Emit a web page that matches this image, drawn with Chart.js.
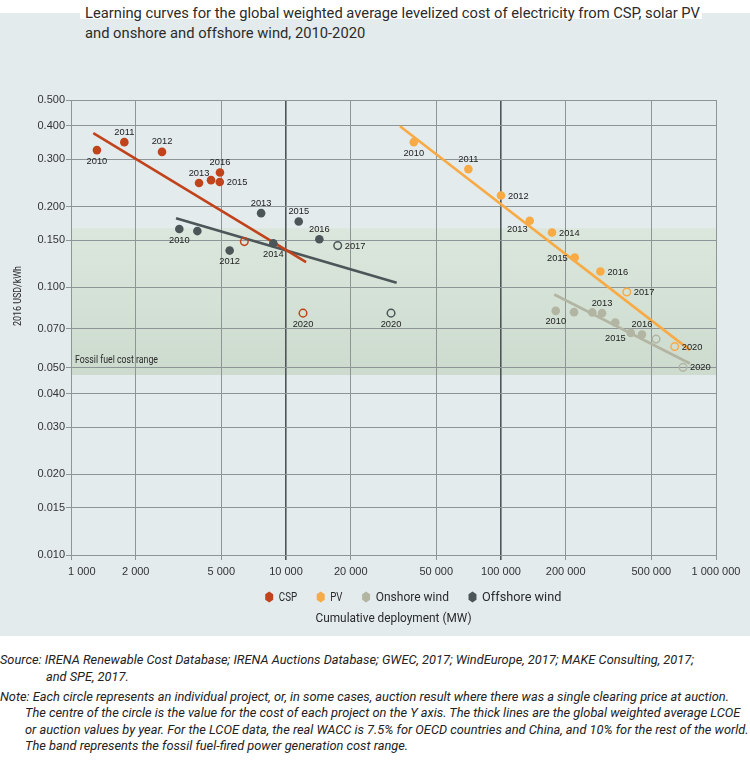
<!DOCTYPE html>
<html><head><meta charset="utf-8">
<script src="https://cdn.jsdelivr.net/npm/chart.js@4.4.1/dist/chart.umd.min.js"></script>
<style>
html,body{margin:0;padding:0;background:#fff;width:750px;height:760px;overflow:hidden;}
#bg{position:absolute;left:0;top:13px;width:750px;height:623px;background:#e3ebed;}
#tbox{position:absolute;left:80px;top:0;width:622px;height:19px;background:#fff;}
#title{position:absolute;left:85px;top:3px;font:15.5px/20px Roboto,sans-serif;color:#2b2b2b;white-space:nowrap;transform-origin:0 0;}
#title span, #notes span{display:inline-block;}
#wrap{position:absolute;left:0;top:0;width:750px;height:640px;}
#notes{position:absolute;left:0;top:652px;font:italic 12.8px/16.5px Roboto,sans-serif;color:#222;white-space:nowrap;transform-origin:0 0;}
#notes p{margin:0 0 3.5px 0;}
.ind1{padding-left:46px;}
.ind2{padding-left:25px;}
</style></head>
<body>
<div id="bg"></div>
<div id="tbox"></div>
<div id="title"><span id="t1">Learning curves for the global weighted average levelized cost of electricity from CSP, solar PV</span><br><span>and onshore and offshore wind, 2010-2020</span></div>
<div id="wrap"><canvas id="c" width="750" height="640"></canvas></div>
<div id="notes">
<p><span>Source: IRENA Renewable Cost Database; IRENA Auctions Database; GWEC, 2017; WindEurope, 2017; MAKE Consulting, 2017;</span><br><span class="ind1">and SPE, 2017.</span></p>
<p><span id="n1">Note: Each circle represents an individual project, or, in some cases, auction result where there was a single clearing price at auction.</span><br><span class="ind2">The centre of the circle is the value for the cost of each project on the Y axis. The thick lines are the global weighted average LCOE</span><br><span class="ind2">or auction values by year. For the LCOE data, the real WACC is 7.5% for OECD countries and China, and 10% for the rest of the world.</span><br><span class="ind2">The band represents the fossil fuel-fired power generation cost range.</span></p>
</div>
<script>
// ---- axis ticks ----
const xTicks = [1000, 2000, 5000, 10000, 20000, 50000, 100000, 200000, 500000, 1000000];
const yTicks = [0.5, 0.4, 0.3, 0.2, 0.15, 0.1, 0.07, 0.05, 0.04, 0.03, 0.02, 0.015, 0.01];
const fossilRange = [0.047, 0.166];

// ---- CSP ----
const cspDeploy = [1320, 1770, 2650, 3940, 4480, 4930, 4920];
const cspLcoe   = [0.325, 0.348, 0.320, 0.245, 0.251, 0.268, 0.247];
const cspYears  = ['2010', '2011', '2012', '2013', '', '2016', '2015'];
const cspAuctionDeploy = [6400, 12000];
const cspAuctionLcoe   = [0.148, 0.080];
const cspAuctionYears  = ['', '2020'];
const cspTrendDeploy = [1270, 12400];
const cspTrendLcoe   = [0.376, 0.124];

// ---- Offshore wind ----
const offDeploy = [3190, 3870, 5470, 7660, 8730, 11460, 14290];
const offLcoe   = [0.165, 0.162, 0.137, 0.189, 0.146, 0.176, 0.151];
const offYears  = ['2010', '', '2012', '2013', '2014', '2015', '2016'];
const offAuctionDeploy = [17400, 30800];
const offAuctionLcoe   = [0.143, 0.080];
const offAuctionYears  = ['2017', '2020'];
const offTrendDeploy = [3080, 32700];
const offTrendLcoe   = [0.181, 0.104];

// ---- Solar PV ----
const pvDeploy = [39300, 70500, 100000, 136000, 172600, 220300, 289900];
const pvLcoe   = [0.348, 0.276, 0.220, 0.177, 0.160, 0.129, 0.1145];
const pvYears  = ['2010', '2011', '2012', '2013', '2014', '2015', '2016'];
const pvAuctionDeploy = [384600, 642700];
const pvAuctionLcoe   = [0.096, 0.060];
const pvAuctionYears  = ['2017', '2020'];
const pvTrendDeploy = [33900, 756600];
const pvTrendLcoe   = [0.399, 0.0582];

// ---- Onshore wind ----
const onDeploy = [179700, 218600, 265900, 295100, 340100, 401300, 452500];
const onLcoe   = [0.0816, 0.0807, 0.0805, 0.0800, 0.0738, 0.0675, 0.0666];
const onYears  = ['2010', '', '', '2013', '', '2015', '2016'];
const onAuctionDeploy = [526300, 702400];
const onAuctionLcoe   = [0.064, 0.0502];
const onAuctionYears  = ['', '2020'];
const onTrendDeploy = [177000, 756600];
const onTrendLcoe   = [0.0939, 0.0519];

const legendNames = ['CSP', 'PV', 'Onshore wind', 'Offshore wind'];

// ---- styles ----
const COL = { csp: '#c1431b', pv: '#f8aa45', on: '#b3b5a3', off: '#4c5659' };
const PLACE = {
  csp: ['b', 'a', 'a', 'a', '', 'a', 'r'], cspA: ['', 'b'],
  off: ['b', '', 'b', 'a', 'b', 'a', 'a'], offA: ['r', 'b'],
  pv: ['b', 'a', 'r', 'bl', 'r', 'l', 'r'], pvA: ['r', 'r'],
  on: ['b', '', '', 'a', '', 'lb', 'a'], onA: ['', 'r']
};
const OFFS = { b: [0, 11, 'center'], a: [0, -10, 'center'], r: [7, 0.5, 'left'], l: [-7, 0.5, 'right'], bl: [-2, 9, 'right'], lb: [-5, 6, 'right'] };
const TXT = 'Roboto,sans-serif';
const NUMF = '"Liberation Sans",sans-serif';

// condense HTML text blocks to the reference widths
function condense(block, line, target) {
  const w = line.getBoundingClientRect().width;
  if (w > target) block.style.transform = 'scaleX(' + (target / w) + ')';
}
condense(document.getElementById('title'), document.getElementById('t1'), 615);
condense(document.getElementById('notes'), document.getElementById('n1'), 737);

function pts(xs, ys) { return xs.map((x, i) => ({ x: x, y: ys[i] })); }
function trend(xs, ys, c) {
  return { data: pts(xs, ys), showLine: true, borderColor: c, borderWidth: 2.6, pointRadius: 0, fill: false, order: 2 };
}
function dots(xs, ys, c, yrs, place) {
  return { data: pts(xs, ys), backgroundColor: c, borderColor: c, pointRadius: 4.3, pointBorderWidth: 0, order: 1, yearLabels: yrs, labelPos: place };
}
function rings(xs, ys, c, yrs, place) {
  return { data: pts(xs, ys), backgroundColor: 'rgba(0,0,0,0)', borderColor: c, pointRadius: 3.8, pointBorderWidth: 1.5, order: 1, yearLabels: yrs, labelPos: place };
}
function fitText(ctx, t, x, y, maxW) {
  const w = ctx.measureText(t).width;
  if (w > maxW) ctx.fillText(t, x, y, maxW); else ctx.fillText(t, x, y);
}

const bandPlugin = {
  id: 'band',
  beforeDraw(chart) {
    const { ctx, chartArea: a, scales: { y } } = chart;
    const top = y.getPixelForValue(fossilRange[1]);
    const bot = y.getPixelForValue(fossilRange[0]);
    const g = ctx.createLinearGradient(0, top, 0, bot);
    g.addColorStop(0, '#dbe7dc');
    g.addColorStop(1, '#cddbcf');
    ctx.save();
    ctx.fillStyle = g;
    ctx.fillRect(a.left, top, a.right - a.left, bot - top);
    ctx.restore();
  },
  beforeDatasetsDraw(chart) {
    const { ctx, chartArea: a, scales: { y } } = chart;
    ctx.save();
    ctx.font = '10px ' + TXT;
    ctx.fillStyle = '#2a2a2a';
    ctx.textAlign = 'left';
    ctx.textBaseline = 'alphabetic';
    fitText(ctx, 'Fossil fuel cost range', a.left + 4, y.getPixelForValue(fossilRange[0]) - 12, 83);
    ctx.restore();
  }
};

const labelPlugin = {
  id: 'yearLabels',
  afterDatasetsDraw(chart) {
    const ctx = chart.ctx;
    ctx.save();
    ctx.font = '9.3px ' + NUMF;
    ctx.fillStyle = '#222';
    ctx.textBaseline = 'middle';
    chart.data.datasets.forEach((ds, i) => {
      if (!ds.yearLabels) return;
      const meta = chart.getDatasetMeta(i);
      meta.data.forEach((el, j) => {
        const t = ds.yearLabels[j];
        const p = ds.labelPos[j];
        if (!t || !p) return;
        const o = OFFS[p];
        ctx.textAlign = o[2];
        ctx.fillText(t, el.x + o[0], el.y + o[1]);
      });
    });
    ctx.restore();
  },
  afterDraw(chart) {
    const { ctx, chartArea: a, scales: { x } } = chart;
    ctx.save();
    // x tick labels
    ctx.font = '11px ' + NUMF;
    ctx.fillStyle = '#333';
    ctx.textBaseline = 'middle';
    xTicks.forEach((v, i) => {
      const px = x.getPixelForValue(v);
      const s = v.toLocaleString('en-US').replace(/,/g, ' ');
      if (i === 0) { ctx.textAlign = 'left'; ctx.fillText(s, px - 3, a.bottom + 17); }
      else { ctx.textAlign = 'center'; ctx.fillText(s, px, a.bottom + 17); }
    });
    // legend
    ctx.font = '13px ' + TXT;
    const cols = [COL.csp, COL.pv, COL.on, COL.off];
    const gapM = 5, rM = 4.6, space = 19;
    const widths = legendNames.map(n => Math.min(ctx.measureText(n).width, n.length * 6.1));
    const total = widths.reduce((s, w) => s + 2 * rM + gapM + w, 0) + space * (legendNames.length - 1);
    let lx = 413 - total / 2;
    const ly = a.bottom + 42;
    legendNames.forEach((n, i) => {
      ctx.fillStyle = cols[i];
      ctx.beginPath();
      for (let k = 0; k < 6; k++) {
        const ang = Math.PI / 2 + k * Math.PI / 3;
        const px = lx + rM + rM * Math.cos(ang), py = ly + (rM + 0.8) * Math.sin(ang);
        if (k === 0) ctx.moveTo(px, py); else ctx.lineTo(px, py);
      }
      ctx.closePath();
      ctx.fill();
      ctx.fillStyle = '#2a2a2a';
      ctx.textAlign = 'left';
      fitText(ctx, n, lx + 2 * rM + gapM, ly + 0.5, widths[i]);
      lx += 2 * rM + gapM + widths[i] + space;
    });
    // x axis title
    ctx.textAlign = 'center';
    fitText(ctx, 'Cumulative deployment (MW)', (a.left + a.right) / 2, a.bottom + 64, 156);
    // y axis title
    ctx.translate(18, 296);
    ctx.rotate(-Math.PI / 2);
    ctx.font = '11px ' + TXT;
    fitText(ctx, '2016 USD/kWh', 0, 0, 60);
    ctx.restore();
  }
};

const majorX = v => v === 10000 || v === 100000;

new Chart(document.getElementById('c'), {
  type: 'scatter',
  data: {
    datasets: [
      trend(cspTrendDeploy, cspTrendLcoe, COL.csp),
      trend(offTrendDeploy, offTrendLcoe, COL.off),
      trend(pvTrendDeploy, pvTrendLcoe, COL.pv),
      trend(onTrendDeploy, onTrendLcoe, COL.on),
      dots(cspDeploy, cspLcoe, COL.csp, cspYears, PLACE.csp),
      rings(cspAuctionDeploy, cspAuctionLcoe, COL.csp, cspAuctionYears, PLACE.cspA),
      dots(offDeploy, offLcoe, COL.off, offYears, PLACE.off),
      rings(offAuctionDeploy, offAuctionLcoe, COL.off, offAuctionYears, PLACE.offA),
      dots(pvDeploy, pvLcoe, COL.pv, pvYears, PLACE.pv),
      rings(pvAuctionDeploy, pvAuctionLcoe, COL.pv, pvAuctionYears, PLACE.pvA),
      dots(onDeploy, onLcoe, COL.on, onYears, PLACE.on),
      rings(onAuctionDeploy, onAuctionLcoe, COL.on, onAuctionYears, PLACE.onA)
    ]
  },
  options: {
    responsive: false,
    animation: false,
    devicePixelRatio: 1,
    layout: { padding: { left: 0, right: 34, top: 100, bottom: 0 } },
    plugins: { legend: { display: false }, tooltip: { enabled: false } },
    scales: {
      x: {
        type: 'logarithmic', min: 1000, max: 1000000, position: 'bottom',
        afterBuildTicks: s => { s.ticks = xTicks.map(v => ({ value: v })); },
        afterFit: s => { s.height = 85; },
        ticks: { display: false },
        grid: {
          color: c => (c.tick && majorX(c.tick.value)) ? '#4f5659' : '#8e9597',
          lineWidth: c => (c.tick && majorX(c.tick.value)) ? 1.6 : 1,
          tickLength: 5
        },
        border: { display: true, color: '#8e9597', width: 1 }
      },
      y: {
        type: 'logarithmic', min: 0.01, max: 0.5,
        afterBuildTicks: s => { s.ticks = yTicks.map(v => ({ value: v })); },
        afterFit: s => { s.width = 71; },
        ticks: {
          callback: v => Number(v).toFixed(3), autoSkip: false, padding: 1,
          font: { family: 'Liberation Sans', size: 11 }, color: '#333'
        },
        grid: { color: '#8e9597', lineWidth: 1, tickLength: 5 },
        border: { display: true, color: '#8e9597', width: 1 }
      }
    }
  },
  plugins: [bandPlugin, labelPlugin]
});
</script>
</body></html>
